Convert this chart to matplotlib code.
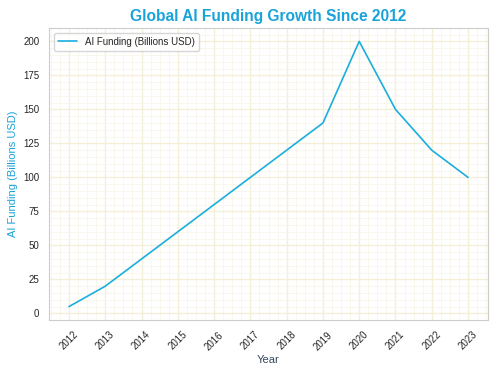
import matplotlib
matplotlib.use("Agg")
import matplotlib.pyplot as plt
import seaborn as sns
from matplotlib.ticker import AutoMinorLocator

years = [2012, 2013, 2014, 2015, 2016, 2017, 2018, 2019, 2020, 2021, 2022, 2023]
funding = [5, 20, 40, 60, 80, 100, 120, 140, 200, 150, 120, 100]

sns.set_style("whitegrid")
plt.rcParams['font.family'] = ['Arial', 'Liberation Sans', 'DejaVu Sans']

fig, ax = plt.subplots(figsize=(5, 3.75), dpi=100)
ax.plot(years, funding, color='#1aaedf', linewidth=1.2, label='AI Funding (Billions USD)')
ax.set_title('Global AI Funding Growth Since 2012', fontsize=11.2, fontweight='bold', color='#1aa3d9', pad=5)
ax.set_xlabel('Year', fontsize=8, color='#34495e', labelpad=2)
ax.set_ylabel('AI Funding (Billions USD)', fontsize=8, color='#1aa3d9')
ax.set_xticks(years)
ax.set_xticklabels([str(y) for y in years], rotation=45, fontsize=7)
ax.tick_params(axis='y', labelsize=7)
ax.yaxis.set_minor_locator(AutoMinorLocator(5))
ax.xaxis.set_minor_locator(AutoMinorLocator(4))
ax.grid(which='major', color='#f3efd8', linewidth=1.0)
ax.grid(which='minor', color='#f8f6ea', linewidth=0.6)
ax.tick_params(which='minor', length=0)
for s in ax.spines.values():
    s.set_color('#cccccc')
ax.legend(loc='upper left', fontsize=7)
fig.subplots_adjust(left=0.098, right=0.976, top=0.925, bottom=0.147)
fig.savefig('out.png', dpi=100)
